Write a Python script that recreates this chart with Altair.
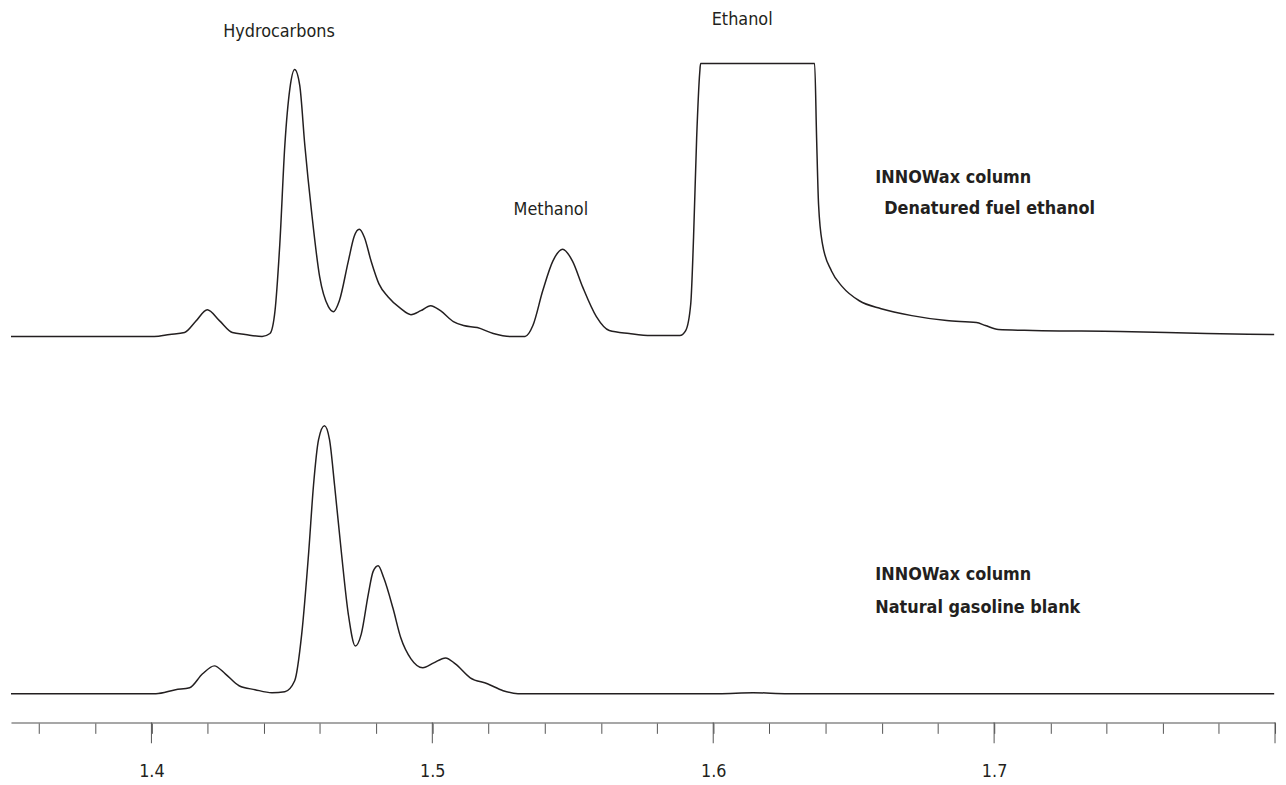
import altair as alt
import pandas as pd

FONT = "Liberation Sans Narrow, DejaVu Sans Condensed, Arial Narrow, sans-serif"
INK = "#231f20"

# ---- Top chromatogram: denatured fuel ethanol (retention time, min / response) ----
top_time = [1.350, 1.393, 1.401, 1.4065, 1.4118, 1.4157, 1.4199, 1.4242, 1.4288, 1.4334,
            1.4394, 1.4422, 1.4440, 1.4457, 1.4475, 1.4493, 1.4510, 1.4528, 1.4546, 1.4570,
            1.4599, 1.4630, 1.4648, 1.4669, 1.4701, 1.4722, 1.4740, 1.4758, 1.4782, 1.4810,
            1.4842, 1.4888, 1.4924, 1.4959, 1.4994, 1.5029, 1.5075, 1.5111, 1.5160, 1.5217,
            1.5277, 1.5330, 1.5358, 1.5393, 1.5429, 1.5464, 1.5499, 1.5535, 1.5584, 1.5630,
            1.5701, 1.5778, 1.5881, 1.5902, 1.5920, 1.5930, 1.5941, 1.5952, 1.5955, 1.6361,
            1.6368, 1.6375, 1.6389, 1.6421, 1.6460, 1.6520, 1.6598, 1.6707, 1.6831, 1.6937,
            1.6969, 1.7015, 1.7138, 1.7449, 1.7756, 1.7997]
top_signal = [0, 0, 0, 2, 4, 15, 27, 16, 4, 2,
              0, 3, 26, 93, 193, 250, 269, 253, 193, 126,
              60, 30, 25, 36, 76, 101, 108, 100, 76, 53,
              40, 28, 22, 26, 31, 26, 15, 11, 9, 3,
              0, 0, 11, 46, 76, 88, 76, 50, 20, 6,
              3, 1, 1, 6, 33, 100, 200, 266, 275, 275,
              200, 133, 93, 66, 50, 36, 28, 21, 16, 14,
              11, 7, 6, 5, 3, 2]

# ---- Bottom chromatogram: natural gasoline blank ----
bottom_time = [1.350, 1.393, 1.4016, 1.4086, 1.4136, 1.4182, 1.4224, 1.4263, 1.4312, 1.4369,
               1.4429, 1.4475, 1.4510, 1.4535, 1.4560, 1.4577, 1.4595, 1.4616, 1.4634, 1.4652,
               1.4676, 1.4701, 1.4726, 1.4747, 1.4772, 1.4789, 1.4807, 1.4828, 1.4860, 1.4888,
               1.4924, 1.4966, 1.5005, 1.5047, 1.5082, 1.5135, 1.5196, 1.5252, 1.5305, 1.5524,
               1.6019, 1.6142, 1.6266, 1.7997]
bottom_signal = [0, 0, 0, 4, 6, 20, 28, 20, 8, 4,
                 1, 2, 13, 60, 143, 210, 256, 270, 256, 210,
                 143, 80, 48, 60, 100, 123, 129, 116, 86, 56,
                 35, 26, 31, 36, 30, 16, 10, 3, 0, 0,
                 0, 1, 0, 0]

# ---- Axis ----
x_domain = [1.35, 1.80]
minor_ticks = [1.36, 1.38, 1.40, 1.42, 1.44, 1.46, 1.48, 1.50, 1.52, 1.54, 1.56, 1.58,
               1.60, 1.62, 1.64, 1.66, 1.68, 1.70, 1.72, 1.74, 1.76, 1.78, 1.80]
major_ticks = [1.4, 1.5, 1.6, 1.7, 1.8]

# ---- Annotations ----
top_labels = ["Hydrocarbons", "Ethanol", "Methanol"]
top_label_time = [1.4454, 1.6103, 1.5422]
top_label_level = [307, 319, 127]
top_bold = ["INNOWax column", "Denatured fuel ethanol"]
top_bold_time = [1.6577, 1.6609]
top_bold_level = [160, 128]
bottom_bold = ["INNOWax column", "Natural gasoline blank"]
bottom_bold_time = [1.6577, 1.6577]
bottom_bold_level = [120, 86]

W = 1274
H_TOP = 332
H_BOT = 352

top_df = pd.DataFrame({"time": top_time, "signal": top_signal})
bot_df = pd.DataFrame({"time": bottom_time, "signal": bottom_signal})
top_lab_df = pd.DataFrame({"time": top_label_time, "signal": top_label_level, "text": top_labels})
top_bold_df = pd.DataFrame({"time": top_bold_time, "signal": top_bold_level, "text": top_bold})
bot_bold_df = pd.DataFrame({"time": bottom_bold_time, "signal": bottom_bold_level, "text": bottom_bold})
major_df = pd.DataFrame({"time": major_ticks})

xs = alt.Scale(domain=x_domain, nice=False, zero=False)
x_axis = alt.Axis(
    values=minor_ticks,
    tickSize=11,
    tickColor="#555555",
    tickWidth=1,
    domainColor="#8a8a8a",
    domainWidth=1.5,
    grid=False,
    labelExpr="abs(datum.value*10-round(datum.value*10))<0.01 && datum.value<1.75 ? format(datum.value,'.1f') : ''",
    labelFont=FONT,
    labelFontSize=18,
    labelColor=INK,
    labelPadding=29,
    labelFlush=False,
    labelOverlap=False,
    title=None,
)

ys_top = alt.Scale(domain=[-7, 325], nice=False, zero=False)
ys_bot = alt.Scale(domain=[-29, 323], nice=False, zero=False)

# Top panel
top_line = alt.Chart(top_df).mark_line(color=INK, strokeWidth=1.5, interpolate="monotone").encode(
    x=alt.X("time:Q", scale=xs, axis=None),
    y=alt.Y("signal:Q", scale=ys_top, axis=None),
)
top_text = alt.Chart(top_lab_df).mark_text(font=FONT, fontSize=18, color=INK, align="center", baseline="middle").encode(
    x=alt.X("time:Q", scale=xs, axis=None),
    y=alt.Y("signal:Q", scale=ys_top, axis=None),
    text="text:N",
)
top_bold_text = alt.Chart(top_bold_df).mark_text(font=FONT, fontSize=18, fontWeight="bold", color=INK, align="left", baseline="middle").encode(
    x=alt.X("time:Q", scale=xs, axis=None),
    y=alt.Y("signal:Q", scale=ys_top, axis=None),
    text="text:N",
)
top_panel = alt.layer(top_line, top_text, top_bold_text).properties(width=W, height=H_TOP)

# Bottom panel
bot_line = alt.Chart(bot_df).mark_line(color=INK, strokeWidth=1.5, interpolate="monotone").encode(
    x=alt.X("time:Q", scale=xs, axis=x_axis),
    y=alt.Y("signal:Q", scale=ys_bot, axis=None),
)
bot_bold_text = alt.Chart(bot_bold_df).mark_text(font=FONT, fontSize=18, fontWeight="bold", color=INK, align="left", baseline="middle").encode(
    x=alt.X("time:Q", scale=xs, axis=x_axis),
    y=alt.Y("signal:Q", scale=ys_bot, axis=None),
    text="text:N",
)
major_rule = alt.Chart(major_df).mark_rule(color="#555555", strokeWidth=1).encode(
    x=alt.X("time:Q", scale=xs, axis=x_axis),
    y=alt.value(H_BOT),
    y2=alt.value(H_BOT + 21),
)
bot_panel = alt.layer(bot_line, bot_bold_text, major_rule).properties(width=W, height=H_BOT)

chart = alt.vconcat(top_panel, bot_panel, spacing=30).properties(
    padding=0, background="white"
).configure_view(stroke=None)

chart.save("out.html", embed_options={"renderer": "svg", "actions": False})
